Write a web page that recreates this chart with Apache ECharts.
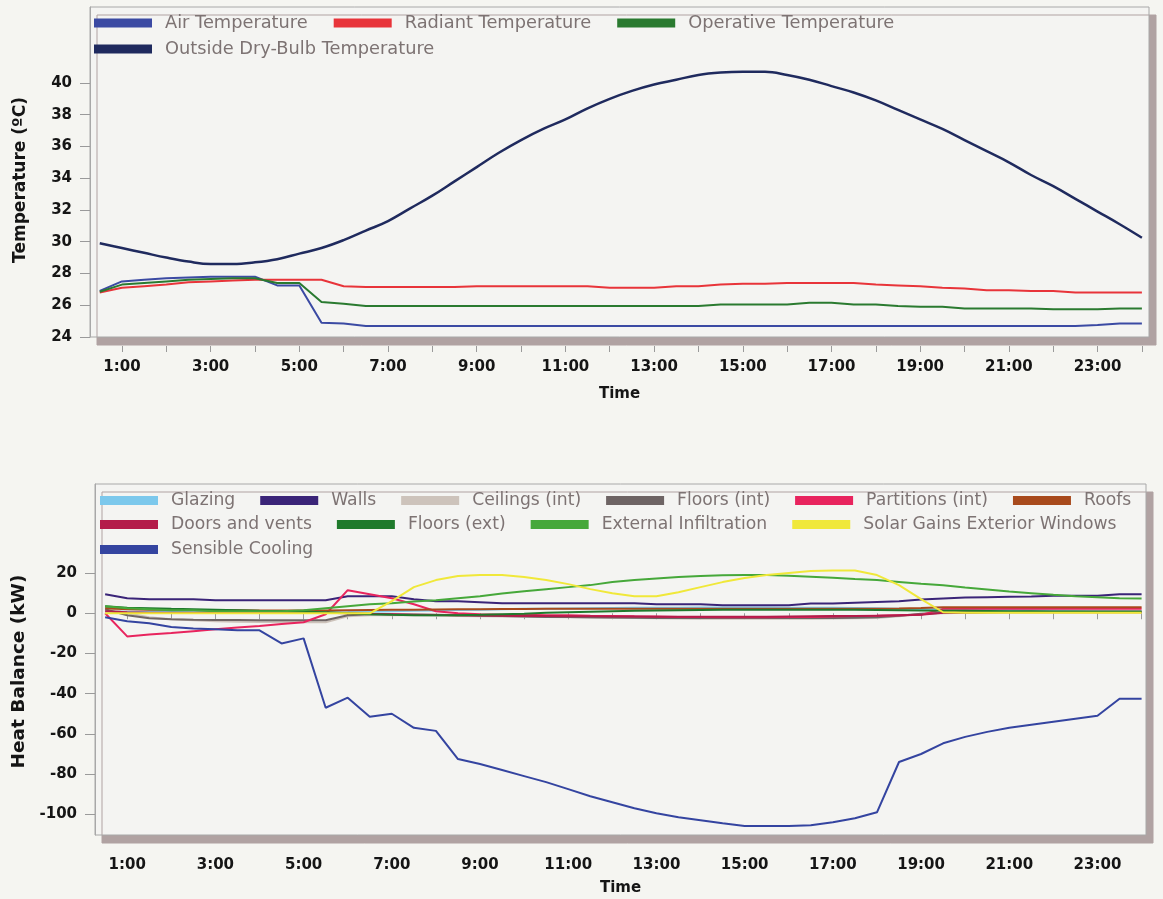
<!DOCTYPE html>
<html>
<head>
<meta charset="utf-8">
<script src="https://cdn.jsdelivr.net/npm/echarts@6/dist/echarts.min.js"></script>
<style>
  html, body { margin: 0; padding: 0; background: #f5f5f1; }
  #chart { width: 1163px; height: 899px; }
</style>
</head>
<body>
<div id="chart"></div>
<script>
// ---------- DATA ----------
const hours = [0.5, 1, 1.5, 2, 2.5, 3, 3.5, 4, 4.5, 5, 5.5, 6,
  6.5, 7, 7.5, 8, 8.5, 9, 9.5, 10, 10.5, 11, 11.5, 12,
  12.5, 13, 13.5, 14, 14.5, 15, 15.5, 16, 16.5, 17, 17.5, 18,
  18.5, 19, 19.5, 20, 20.5, 21, 21.5, 22, 22.5, 23, 23.5, 24];

const xTickHours = [1, 2, 3, 4, 5, 6, 7, 8, 9, 10, 11, 12, 13, 14, 15, 16, 17, 18, 19, 20, 21, 22, 23, 24];
const xLabelHours = [1, 3, 5, 7, 9, 11, 13, 15, 17, 19, 21, 23];
const tempTicks = [24, 26, 28, 30, 32, 34, 36, 38, 40];
const heatTicks = [-100, -80, -60, -40, -20, 0, 20];

// Temperatures (°C)
const airTemp = [26.9, 27.5, 27.6, 27.7, 27.75, 27.8, 27.8, 27.8, 27.25, 27.25, 24.9, 24.85,
  24.7, 24.7, 24.7, 24.7, 24.7, 24.7, 24.7, 24.7, 24.7, 24.7, 24.7, 24.7,
  24.7, 24.7, 24.7, 24.7, 24.7, 24.7, 24.7, 24.7, 24.7, 24.7, 24.7, 24.7,
  24.7, 24.7, 24.7, 24.7, 24.7, 24.7, 24.7, 24.7, 24.7, 24.75, 24.85, 24.85];
const radiantTemp = [26.8, 27.1, 27.2, 27.3, 27.45, 27.5, 27.55, 27.6, 27.6, 27.6, 27.6, 27.2,
  27.15, 27.15, 27.15, 27.15, 27.15, 27.2, 27.2, 27.2, 27.2, 27.2, 27.2, 27.1,
  27.1, 27.1, 27.2, 27.2, 27.3, 27.35, 27.35, 27.4, 27.4, 27.4, 27.4, 27.3,
  27.25, 27.2, 27.1, 27.05, 26.95, 26.95, 26.9, 26.9, 26.8, 26.8, 26.8, 26.8];
const operativeTemp = [26.85, 27.3, 27.4, 27.5, 27.6, 27.65, 27.7, 27.7, 27.4, 27.4, 26.2, 26.1,
  25.95, 25.95, 25.95, 25.95, 25.95, 25.95, 25.95, 25.95, 25.95, 25.95, 25.95, 25.95,
  25.95, 25.95, 25.95, 25.95, 26.05, 26.05, 26.05, 26.05, 26.15, 26.15, 26.05, 26.05,
  25.95, 25.9, 25.9, 25.8, 25.8, 25.8, 25.8, 25.75, 25.75, 25.75, 25.8, 25.8];
const outsideTemp = [29.9, 29.6, 29.3, 29.0, 28.75, 28.6, 28.6, 28.7, 28.9, 29.25, 29.6, 30.1,
  30.7, 31.3, 32.1, 32.9, 33.8, 34.7, 35.6, 36.4, 37.1, 37.7, 38.4, 39.0,
  39.5, 39.9, 40.2, 40.5, 40.65, 40.7, 40.7, 40.5, 40.2, 39.8, 39.4, 38.9,
  38.3, 37.7, 37.1, 36.4, 35.7, 35.0, 34.2, 33.5, 32.7, 31.9, 31.1, 30.25];

// Heat balance (kW)
const glazing = [1.0, 0.8, 0.7, 0.6, 0.5, 0.5, 0.4, 0.4, 0.4, 0.4, 0.5, 0.6,
  0.8, 1.0, 1.2, 1.4, 1.6, 1.8, 2.0, 2.2, 2.3, 2.4, 2.5, 2.6,
  2.7, 2.8, 2.8, 2.9, 2.9, 2.9, 2.9, 2.8, 2.8, 2.7, 2.6, 2.5,
  2.3, 2.1, 1.9, 1.8, 1.7, 1.6, 1.5, 1.4, 1.3, 1.2, 1.1, 1.0];
const walls = [9.5, 7.5, 7.0, 7.0, 7.0, 6.5, 6.5, 6.5, 6.5, 6.5, 6.5, 8.5,
  8.5, 8.5, 7.0, 6.0, 6.0, 5.5, 5.0, 5.0, 5.0, 5.0, 5.0, 5.0,
  5.0, 4.5, 4.5, 4.5, 4.0, 4.0, 4.0, 4.0, 4.8, 4.8, 5.2, 5.6,
  6.0, 6.8, 7.3, 7.8, 8.0, 8.2, 8.4, 8.7, 8.7, 8.7, 9.4, 9.4];
const ceilingsInt = [3.0, 0.0, -2.0, -3.0, -3.5, -4.0, -4.2, -4.3, -4.4, -4.5, -4.5, -1.5,
  -1.0, -1.0, -1.0, -1.2, -1.3, -1.5, -1.6, -1.7, -1.8, -2.0, -2.2, -2.3,
  -2.4, -2.5, -2.6, -2.7, -2.7, -2.7, -2.7, -2.7, -2.7, -2.6, -2.5, -2.3,
  -1.5, -0.5, 0.0, 0.3, 0.5, 0.6, 0.7, 0.8, 0.9, 1.0, 1.0, 1.0];
const floorsInt = [2.0, -1.0, -2.5, -3.0, -3.2, -3.3, -3.4, -3.5, -3.5, -3.5, -3.5, -1.0,
  -0.5, -0.5, -0.6, -0.8, -1.0, -1.2, -1.4, -1.6, -1.8, -1.9, -2.0, -2.1,
  -2.2, -2.3, -2.3, -2.4, -2.4, -2.4, -2.4, -2.4, -2.3, -2.3, -2.2, -2.0,
  -1.2, -0.3, 0.2, 0.4, 0.5, 0.6, 0.7, 0.8, 0.8, 0.9, 0.9, 0.9];
const partitionsInt = [0.0, -11.5, -10.6, -9.8, -8.9, -8.0, -7.1, -6.3, -5.4, -4.5, -0.5, 11.5,
  9.5, 7.5, 4.5, 1.0, 0.0, -0.5, -0.7, -0.8, -1.0, -1.0, -1.2, -1.3,
  -1.5, -1.6, -1.8, -1.9, -2.0, -2.0, -2.0, -1.9, -1.8, -1.6, -1.4, -1.2,
  -1.0, -0.8, 2.2, 2.2, 2.2, 2.2, 2.2, 2.2, 2.2, 2.2, 2.2, 2.2];
const roofs = [2.5, 2.0, 1.8, 1.7, 1.6, 1.5, 1.5, 1.4, 1.4, 1.4, 1.4, 1.5,
  1.6, 1.7, 1.8, 1.9, 2.0, 2.0, 2.1, 2.1, 2.2, 2.2, 2.2, 2.3,
  2.3, 2.3, 2.3, 2.3, 2.3, 2.3, 2.3, 2.3, 2.3, 2.3, 2.3, 2.3,
  2.4, 2.6, 3.0, 3.0, 3.0, 3.0, 3.0, 3.0, 3.0, 3.0, 3.0, 3.0];
const doorsVents = [1.0, 0.5, 0.3, 0.2, 0.2, 0.2, 0.2, 0.2, 0.2, 0.2, 0.2, 0.0,
  -0.3, -0.5, -0.7, -0.9, -1.0, -1.1, -1.2, -1.3, -1.4, -1.5, -1.5, -1.6,
  -1.6, -1.7, -1.7, -1.7, -1.7, -1.7, -1.7, -1.6, -1.5, -1.4, -1.3, -1.2,
  -1.0, -0.8, 0.3, 0.4, 0.5, 0.5, 0.5, 0.5, 0.5, 0.5, 0.5, 0.5];
const floorsExt = [3.5, 2.8, 2.5, 2.2, 2.0, 1.8, 1.5, 1.2, 1.0, 0.8, 0.5, 0.0,
  -0.5, -0.8, -1.0, -1.0, -1.0, -0.8, -0.5, -0.2, 0.2, 0.5, 0.8, 1.0,
  1.2, 1.4, 1.5, 1.6, 1.7, 1.7, 1.8, 1.8, 1.8, 1.7, 1.7, 1.6,
  1.5, 1.4, 1.3, 1.2, 1.1, 1.0, 1.0, 0.9, 0.9, 0.8, 0.8, 0.8];
const extInfiltration = [3.5, 2.5, 2.0, 1.5, 1.5, 1.0, 1.0, 1.0, 1.0, 1.5, 2.5, 3.5,
  4.5, 5.0, 5.8, 6.5, 7.5, 8.5, 9.8, 11.0, 12.0, 13.0, 14.0, 15.5,
  16.5, 17.3, 18.0, 18.5, 18.9, 19.0, 19.0, 18.6, 18.2, 17.7, 17.0, 16.5,
  15.6, 14.7, 13.9, 12.8, 11.8, 10.8, 10.0, 9.2, 8.5, 8.0, 7.5, 7.3];
const solarGains = [0, 0, 0, 0, 0, 0, 0, 0, 0, 0, 0, 0,
  0, 6, 13, 16.5, 18.5, 19, 19, 18, 16.5, 14.5, 12, 10,
  8.5, 8.5, 10.5, 13, 15.5, 17.5, 19, 20, 21, 21.3, 21.3, 19,
  14, 7, 0.5, 0.3, 0.3, 0.3, 0.3, 0.3, 0.3, 0.3, 0.3, 0.3];
const sensibleCooling = [-2, -4, -5, -6.8, -7.6, -8, -8.5, -8.5, -15, -12.5, -47, -42,
  -51.5, -50, -57, -58.5, -72.5, -75, -78, -81, -84, -87.5, -91, -94,
  -97, -99.5, -101.5, -103, -104.5, -105.8, -105.8, -105.8, -105.5, -104, -102, -99,
  -74, -70, -64.7, -61.5, -59, -57, -55.5, -54, -52.5, -51, -42.5, -42.5];

// ---------- CHART ----------
const FONT = 'DejaVu Sans';
const pairs = arr => hours.map((h, i) => [h, arr[i]]);

const tempSeries = [
  { name: 'Air Temperature', data: airTemp, color: '#3b4aa3', w: 2, smooth: false },
  { name: 'Radiant Temperature', data: radiantTemp, color: '#e8343a', w: 2, smooth: false },
  { name: 'Operative Temperature', data: operativeTemp, color: '#2a7a30', w: 2, smooth: false },
  { name: 'Outside Dry-Bulb Temperature', data: outsideTemp, color: '#1f2a5e', w: 2.5, smooth: 0.4 }
];
const heatSeries = [
  { name: 'Glazing', data: glazing, color: '#7cc8ec' },
  { name: 'Walls', data: walls, color: '#3a2478' },
  { name: 'Ceilings (int)', data: ceilingsInt, color: '#cdc3bb' },
  { name: 'Floors (int)', data: floorsInt, color: '#6e6464' },
  { name: 'Partitions (int)', data: partitionsInt, color: '#e8245e' },
  { name: 'Roofs', data: roofs, color: '#a84a1c' },
  { name: 'Doors and vents', data: doorsVents, color: '#b41c4a' },
  { name: 'Floors (ext)', data: floorsExt, color: '#1f7a2c' },
  { name: 'External Infiltration', data: extInfiltration, color: '#46a83a' },
  { name: 'Solar Gains Exterior Windows', data: solarGains, color: '#f0e83a' },
  { name: 'Sensible Cooling', data: sensibleCooling, color: '#3444a0' }
];

const labelStyle = { fontFamily: FONT, fontWeight: 'bold', fontSize: 15, color: '#151515' };
function legendBase(fontSize, gap) {
  return {
    icon: 'rect', itemWidth: 58, itemHeight: 9, itemGap: gap, padding: 0,
    selectedMode: false,
    textStyle: { fontFamily: FONT, fontSize, color: '#7d7373', padding: [0, 0, 0, 8] }
  };
}
const gridBase = {
  show: true, backgroundColor: '#f4f4f2', borderColor: '#a8a8a8', borderWidth: 1,
  shadowColor: '#b0a2a2', shadowOffsetX: 7, shadowOffsetY: 8, shadowBlur: 0
};

function xAxisFor(gridIndex, min, max, nameGap) {
  return {
    gridIndex, type: 'value', min, max, offset: 9,
    axisLine: { show: false },
    splitLine: { show: false },
    axisTick: { show: true, length: 6, lineStyle: { color: '#9a9a9a' }, customValues: xTickHours },
    axisLabel: Object.assign({ customValues: xLabelHours, formatter: v => v + ':00', margin: 14 }, labelStyle),
    name: 'Time', nameLocation: 'middle', nameGap,
    nameTextStyle: labelStyle
  };
}

function yAxisFor(gridIndex, min, max, ticks, name, nameGap, shift, nameSize) {
  return {
    gridIndex, type: 'value', min, max,
    axisLine: { show: true, lineStyle: { color: '#a8a8a8' } },
    splitLine: { show: false },
    axisTick: { show: true, length: 10, lineStyle: { color: '#9a9a9a' }, customValues: ticks },
    axisLabel: Object.assign({ customValues: ticks, margin: 18 }, labelStyle),
    name, nameLocation: 'middle', nameGap,
    nameTextStyle: { fontFamily: FONT, fontWeight: 'bold', fontSize: nameSize, color: '#151515', padding: [0, shift, 0, 0] }
  };
}

const option = {
  animation: false,
  backgroundColor: '#f5f5f1',
  grid: [
    Object.assign({ left: 90, right: 14, top: 7, height: 330 }, gridBase),
    Object.assign({ left: 95, right: 17, top: 484, height: 351 }, gridBase)
  ],
  xAxis: [xAxisFor(0, 0.28, 24.16, 41), xAxisFor(1, 0.27, 24.1, 37)],
  yAxis: [
    yAxisFor(0, 24, 44.78, tempTicks, 'Temperature (ºC)', 61, 16, 17),
    yAxisFor(1, -110.3, 64.3, heatTicks, 'Heat Balance (kW)', 66, 24, 18.5)
  ],
  legend: [
    Object.assign({ left: 94, top: 14, data: ['Air Temperature', 'Radiant Temperature', 'Operative Temperature'] }, legendBase(17.8, 26)),
    Object.assign({ left: 94, top: 40, data: ['Outside Dry-Bulb Temperature'] }, legendBase(17.8, 26)),
    Object.assign({ left: 100, top: 492, data: ['Glazing', 'Walls', 'Ceilings (int)', 'Floors (int)', 'Partitions (int)', 'Roofs'] }, legendBase(17.2, 25)),
    Object.assign({ left: 100, top: 516, data: ['Doors and vents', 'Floors (ext)', 'External Infiltration', 'Solar Gains Exterior Windows'] }, legendBase(17.2, 25)),
    Object.assign({ left: 100, top: 541, data: ['Sensible Cooling'] }, legendBase(17.2, 25))
  ],
  series: [
    ...tempSeries.map(s => ({
      name: s.name, type: 'line', xAxisIndex: 0, yAxisIndex: 0, data: pairs(s.data),
      showSymbol: false, symbol: 'none', color: s.color, smooth: s.smooth,
      lineStyle: { width: s.w, color: s.color }, itemStyle: { color: s.color }
    })),
    ...heatSeries.map(s => ({
      name: s.name, type: 'line', xAxisIndex: 1, yAxisIndex: 1, data: pairs(s.data),
      showSymbol: false, symbol: 'none', color: s.color,
      lineStyle: { width: 2, color: s.color }, itemStyle: { color: s.color }
    }))
  ]
};

const chart = echarts.init(document.getElementById('chart'), null, { renderer: 'canvas' });
chart.setOption(option);
</script>
</body>
</html>
